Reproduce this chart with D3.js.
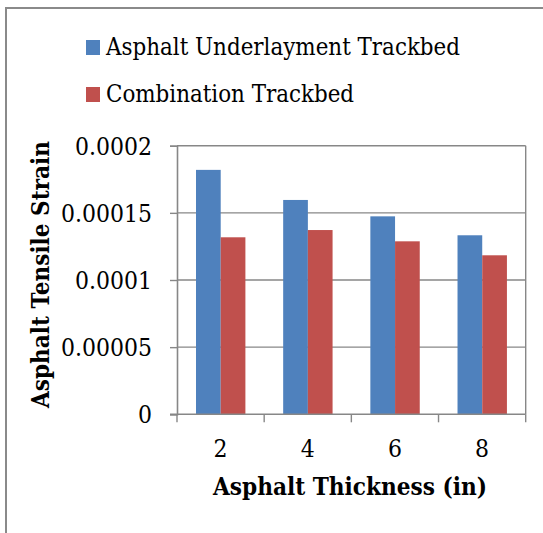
<!DOCTYPE html>
<html><head><meta charset="utf-8">
<script src="https://cdn.jsdelivr.net/npm/d3@7"></script>
<style>body{margin:0;background:#fff}svg{display:block}</style>
</head><body>
<svg id="c" width="543" height="533"></svg>
<script>
const categories = ["2", "4", "6", "8"];
const seriesNames = ["Asphalt Underlayment Trackbed", "Combination Trackbed"];
const underlayment = [0.000182, 0.0001596, 0.0001474, 0.0001333];
const combination = [0.0001318, 0.0001372, 0.0001288, 0.0001184];
const yTicks = [0, 0.00005, 0.0001, 0.00015, 0.0002];
const yTickLabels = ["0", "0.00005", "0.0001", "0.00015", "0.0002"];
const colors = ["#4F81BD", "#C0504D"];

const FONT = "'DejaVu Serif Condensed', 'Liberation Serif', serif";
const svg = d3.select("#c");
const L = 177, R = 525.7, T = 145.7, B = 414.3;

function fit(sel, target) {
  const node = sel.node();
  let fs = parseFloat(sel.attr("font-size"));
  for (let i = 0; i < 3; i++) {
    const w = node.getComputedTextLength();
    if (w > 0) { fs = fs * target / w; sel.attr("font-size", fs); }
  }
}

// outer frame (cropped at right/bottom)
svg.append("path").attr("d", `M6,540 V8 H560`).attr("fill", "none").attr("stroke", "#8a8a8a").attr("stroke-width", 2);

const x0 = d3.scaleBand().domain(categories).range([L, R]).paddingInner(0).paddingOuter(0);
const x1 = d3.scaleBand().domain([0, 1]).range([19, 19 + 49.4]);
const y = d3.scaleLinear().domain([0, 0.0002]).range([B, T]);

// gridlines
svg.append("g").selectAll("line").data(yTicks.slice(1)).join("line")
  .attr("x1", L).attr("x2", R).attr("y1", d => y(d)).attr("y2", d => y(d))
  .attr("stroke", "#878787").attr("stroke-width", 1.4);

// right border of plot
svg.append("line").attr("x1", R).attr("x2", R).attr("y1", T).attr("y2", B)
  .attr("stroke", "#878787").attr("stroke-width", 1.4);

// bars
const data = categories.map((c, i) => ({ c, v: [underlayment[i], combination[i]] }));
const g = svg.append("g");
data.forEach(d => {
  d.v.forEach((v, s) => {
    g.append("rect")
      .attr("x", x0(d.c) + x1(s)).attr("width", x1.bandwidth())
      .attr("y", y(v)).attr("height", B - y(v))
      .attr("fill", colors[s]);
  });
});

// y axis
const yAxis = d3.axisLeft(y).tickValues(yTicks).tickSize(7).tickFormat((d, i) => yTickLabels[i]);
const ya = svg.append("g").attr("transform", `translate(${L},0)`).call(yAxis);
ya.select(".domain").attr("stroke", "#878787").attr("stroke-width", 1.6);
ya.selectAll(".tick line").attr("stroke", "#878787").attr("stroke-width", 1.4);
ya.selectAll(".tick text").attr("font-family", FONT).attr("font-size", 20).attr("fill", "#000")
  .attr("x", -25).attr("dy", null).attr("y", 8.5);

// x axis
const xa = svg.append("g").attr("transform", `translate(0,${B})`);
xa.append("line").attr("x1", L - 7).attr("x2", R).attr("y1", 0).attr("y2", 0)
  .attr("stroke", "#878787").attr("stroke-width", 1.6);
const bounds = categories.map(c => x0(c)).concat([R]);
xa.selectAll("line.tk").data(bounds).join("line").attr("class", "tk")
  .attr("x1", d => d).attr("x2", d => d).attr("y1", 0).attr("y2", 8)
  .attr("stroke", "#878787").attr("stroke-width", 1.4);
xa.selectAll("text").data(categories).join("text")
  .attr("x", d => x0(d) + x0.bandwidth() / 2).attr("y", 42.4)
  .attr("text-anchor", "middle").attr("font-family", FONT).attr("font-size", 20).text(d => d);

// fit y tick label sizes to match "0.00015" width of 91
const t15 = ya.selectAll(".tick text").filter((d, i) => i === 3);
fit(t15, 91);
const yfs = t15.attr("font-size");
ya.selectAll(".tick text").attr("font-size", yfs);
xa.selectAll("text").attr("font-size", yfs);

// axis titles
const xt = svg.append("text").attr("x", 350).attr("y", 495).attr("text-anchor", "middle")
  .attr("font-family", FONT).attr("font-weight", "bold").attr("font-size", 20)
  .text("Asphalt Thickness (in)");
fit(xt, 274);
const yt = svg.append("text").attr("transform", "translate(49,274.5) rotate(-90)").attr("text-anchor", "middle")
  .attr("font-family", FONT).attr("font-weight", "bold").attr("font-size", 20)
  .text("Asphalt Tensile Strain");
fit(yt, 267);

// legend
const legY = [40, 87];
const legW = [354, 248];
seriesNames.forEach((n, i) => {
  svg.append("rect").attr("x", 86).attr("y", legY[i]).attr("width", 14).attr("height", 15).attr("fill", colors[i]);
  const t = svg.append("text").attr("x", 106).attr("y", legY[i] + 15)
    .attr("font-family", FONT).attr("font-size", 22).attr("fill", "#000").text(n);
  fit(t, legW[i]);
});
</script>
</body></html>
